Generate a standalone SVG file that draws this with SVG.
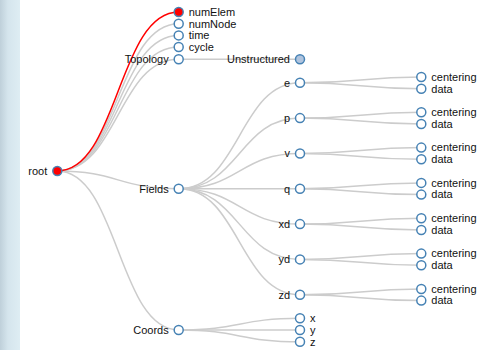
<svg xmlns="http://www.w3.org/2000/svg" width="487" height="350" viewBox="0 0 487 350">
<defs>
<linearGradient id="strip" x1="0" y1="0" x2="1" y2="0">
<stop offset="0" stop-color="#bfd0da"/>
<stop offset="0.4" stop-color="#d5e5ed"/>
<stop offset="1" stop-color="#deedf3"/>
</linearGradient>
<style>
.link{fill:none;stroke:#ccc;stroke-width:1.5}
.hl{fill:none;stroke:#f00;stroke-width:1.5}
.node circle{fill:#fff;stroke:#4682b4;stroke-width:1.5}
.node circle.red{fill:#f00}
.node circle.sel{fill:#b0c4de}
text{font-family:"Liberation Sans",Arial,sans-serif;font-size:11px;fill:#111}
.l{text-anchor:end}
</style>
</defs>
<rect x="0" y="0" width="487" height="350" fill="#fff"/>
<rect x="0" y="0" width="20" height="350" fill="url(#strip)"/>
<g id="links">
<path class="link" d="M57.3,171C118,171 118,23.7 178.7,23.7"/>
<path class="link" d="M57.3,171C118,171 118,35.4 178.7,35.4"/>
<path class="link" d="M57.3,171C118,171 118,47 178.7,47"/>
<path class="link" d="M57.3,171C118,171 118,59.3 178.7,59.3"/>
<path class="link" d="M57.3,171C118,171 118,188.8 178.7,188.8"/>
<path class="link" d="M57.3,171C118,171 118,330 178.7,330"/>
<path class="link" d="M178.7,59.3C239.4,59.3 239.4,59.3 300,59.3"/>
<path class="link" d="M178.7,188.8C239.4,188.8 239.4,82.8 300,82.8"/>
<path class="link" d="M178.7,188.8C239.4,188.8 239.4,118.1 300,118.1"/>
<path class="link" d="M178.7,188.8C239.4,188.8 239.4,153.5 300,153.5"/>
<path class="link" d="M178.7,188.8C239.4,188.8 239.4,188.8 300,188.8"/>
<path class="link" d="M178.7,188.8C239.4,188.8 239.4,224.1 300,224.1"/>
<path class="link" d="M178.7,188.8C239.4,188.8 239.4,259.4 300,259.4"/>
<path class="link" d="M178.7,188.8C239.4,188.8 239.4,294.8 300,294.8"/>
<path class="link" d="M178.7,330C239.4,330 239.4,318.3 300,318.3"/>
<path class="link" d="M178.7,330C239.4,330 239.4,330 300,330"/>
<path class="link" d="M178.7,330C239.4,330 239.4,341.8 300,341.8"/>
<path class="link" d="M300,82.8C360.6,82.8 360.6,77 421.3,77"/>
<path class="link" d="M300,82.8C360.6,82.8 360.6,88.7 421.3,88.7"/>
<path class="link" d="M300,118.1C360.6,118.1 360.6,112.3 421.3,112.3"/>
<path class="link" d="M300,118.1C360.6,118.1 360.6,124 421.3,124"/>
<path class="link" d="M300,153.5C360.6,153.5 360.6,147.6 421.3,147.6"/>
<path class="link" d="M300,153.5C360.6,153.5 360.6,159.3 421.3,159.3"/>
<path class="link" d="M300,188.8C360.6,188.8 360.6,182.9 421.3,182.9"/>
<path class="link" d="M300,188.8C360.6,188.8 360.6,194.6 421.3,194.6"/>
<path class="link" d="M300,224.1C360.6,224.1 360.6,218.3 421.3,218.3"/>
<path class="link" d="M300,224.1C360.6,224.1 360.6,230 421.3,230"/>
<path class="link" d="M300,259.4C360.6,259.4 360.6,253.6 421.3,253.6"/>
<path class="link" d="M300,259.4C360.6,259.4 360.6,265.3 421.3,265.3"/>
<path class="link" d="M300,294.8C360.6,294.8 360.6,289 421.3,289"/>
<path class="link" d="M300,294.8C360.6,294.8 360.6,300.6 421.3,300.6"/>
<path class="hl" d="M57.3,171C118,171 118,12 178.7,12"/>
</g>
<g id="root" class="node"><circle class="red" cx="57.3" cy="171" r="4.5"/><text class="l" x="47.3" y="174.8">root</text></g>
<g id="numElem" class="node"><circle class="red" cx="178.7" cy="12" r="4.5"/><text x="188.7" y="15.8">numElem</text></g>
<g id="numNode" class="node"><circle cx="178.7" cy="23.7" r="4.5"/><text x="188.7" y="27.5">numNode</text></g>
<g id="time" class="node"><circle cx="178.7" cy="35.4" r="4.5"/><text x="188.7" y="39.2">time</text></g>
<g id="cycle" class="node"><circle cx="178.7" cy="47" r="4.5"/><text x="188.7" y="50.8">cycle</text></g>
<g id="Topology" class="node"><circle cx="178.7" cy="59.3" r="4.5"/><text class="l" x="168.7" y="63.1">Topology</text></g>
<g id="Unstructured" class="node"><circle class="sel" cx="300" cy="59.3" r="4.5"/><text class="l" x="290" y="63.1">Unstructured</text></g>
<g id="Fields" class="node"><circle cx="178.7" cy="188.8" r="4.5"/><text class="l" x="168.7" y="192.6">Fields</text></g>
<g id="Coords" class="node"><circle cx="178.7" cy="330" r="4.5"/><text class="l" x="168.7" y="333.8">Coords</text></g>
<g id="e" class="node"><circle cx="300" cy="82.8" r="4.5"/><text class="l" x="290" y="86.6">e</text></g>
<g id="p" class="node"><circle cx="300" cy="118.1" r="4.5"/><text class="l" x="290" y="121.9">p</text></g>
<g id="v" class="node"><circle cx="300" cy="153.5" r="4.5"/><text class="l" x="290" y="157.3">v</text></g>
<g id="q" class="node"><circle cx="300" cy="188.8" r="4.5"/><text class="l" x="290" y="192.6">q</text></g>
<g id="xd" class="node"><circle cx="300" cy="224.1" r="4.5"/><text class="l" x="290" y="227.9">xd</text></g>
<g id="yd" class="node"><circle cx="300" cy="259.4" r="4.5"/><text class="l" x="290" y="263.2">yd</text></g>
<g id="zd" class="node"><circle cx="300" cy="294.8" r="4.5"/><text class="l" x="290" y="298.6">zd</text></g>
<g id="x" class="node"><circle cx="300" cy="318.3" r="4.5"/><text x="310" y="322.1">x</text></g>
<g id="y" class="node"><circle cx="300" cy="330" r="4.5"/><text x="310" y="333.8">y</text></g>
<g id="z" class="node"><circle cx="300" cy="341.8" r="4.5"/><text x="310" y="345.6">z</text></g>
<g id="e-centering" class="node"><circle cx="421.3" cy="77" r="4.5"/><text x="431.3" y="80.8">centering</text></g>
<g id="e-data" class="node"><circle cx="421.3" cy="88.7" r="4.5"/><text x="431.3" y="92.5">data</text></g>
<g id="p-centering" class="node"><circle cx="421.3" cy="112.3" r="4.5"/><text x="431.3" y="116.1">centering</text></g>
<g id="p-data" class="node"><circle cx="421.3" cy="124" r="4.5"/><text x="431.3" y="127.8">data</text></g>
<g id="v-centering" class="node"><circle cx="421.3" cy="147.6" r="4.5"/><text x="431.3" y="151.4">centering</text></g>
<g id="v-data" class="node"><circle cx="421.3" cy="159.3" r="4.5"/><text x="431.3" y="163.1">data</text></g>
<g id="q-centering" class="node"><circle cx="421.3" cy="182.9" r="4.5"/><text x="431.3" y="186.7">centering</text></g>
<g id="q-data" class="node"><circle cx="421.3" cy="194.6" r="4.5"/><text x="431.3" y="198.4">data</text></g>
<g id="xd-centering" class="node"><circle cx="421.3" cy="218.3" r="4.5"/><text x="431.3" y="222.1">centering</text></g>
<g id="xd-data" class="node"><circle cx="421.3" cy="230" r="4.5"/><text x="431.3" y="233.8">data</text></g>
<g id="yd-centering" class="node"><circle cx="421.3" cy="253.6" r="4.5"/><text x="431.3" y="257.4">centering</text></g>
<g id="yd-data" class="node"><circle cx="421.3" cy="265.3" r="4.5"/><text x="431.3" y="269.1">data</text></g>
<g id="zd-centering" class="node"><circle cx="421.3" cy="289" r="4.5"/><text x="431.3" y="292.8">centering</text></g>
<g id="zd-data" class="node"><circle cx="421.3" cy="300.6" r="4.5"/><text x="431.3" y="304.4">data</text></g>
</svg>
